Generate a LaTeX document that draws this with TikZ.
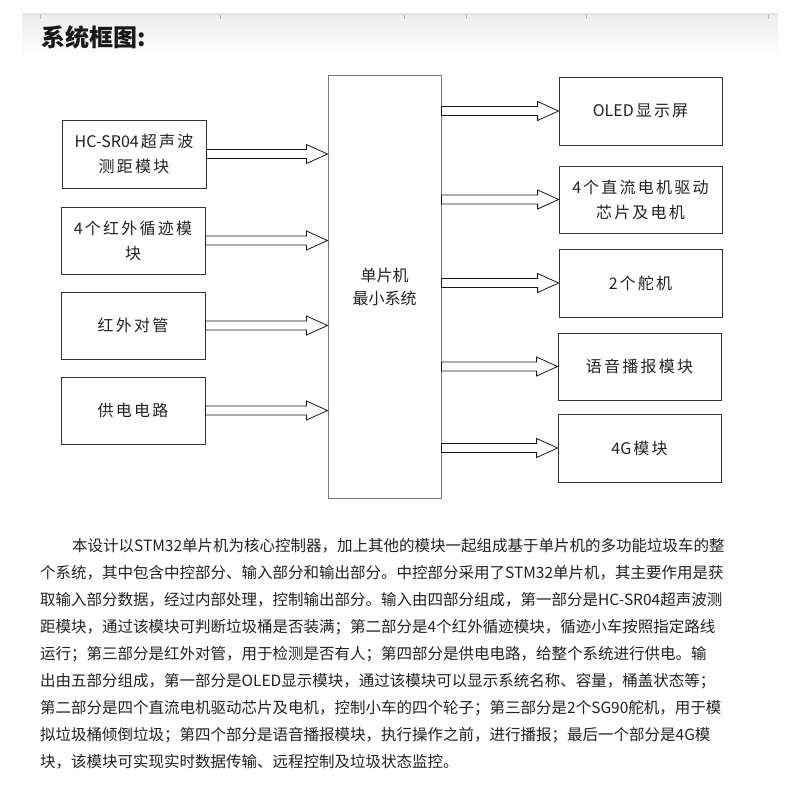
\documentclass[tikz,border=0pt]{standalone}
\usepackage{fontspec}
\setmainfont{Noto Sans CJK SC}
\newfontfamily\boxfont{Noto Sans CJK SC}[LetterSpace=14]
\XeTeXlinebreaklocale "zh"
\XeTeXlinebreakskip=0pt plus 3pt
\definecolor{BoxLine}{HTML}{333333}
\definecolor{CoreLine}{HTML}{7A7A7A}
\definecolor{TextGray}{HTML}{222222}
\usetikzlibrary{calc}

% hollow block arrow: from x of #1 to x of #2, at height #3
\newcommand{\blockarrow}[3]{%
  \draw[blockarrow] let \p1=(#1), \p2=(#2), \p3=(#3) in
    ({\x1},{\y3+4.5pt}) -- ({\x2-21pt},{\y3+4.5pt}) -- ({\x2-21pt},{\y3+9.5pt})
    -- ({\x2},{\y3}) -- ({\x2-21pt},{\y3-9.5pt}) -- ({\x2-21pt},{\y3-4.5pt})
    -- ({\x1},{\y3-4.5pt}) -- cycle;}
\newcommand{\pline}[2]{\hbox to #1pt{#2}}
\newcommand{\lat}[1]{{\rmfamily #1}\kern2pt}

\begin{document}
\begin{tikzpicture}[x=1pt, y=-1pt,
    every node/.style={font=\boxfont\fontsize{16}{25}\selectfont, text=TextGray},
    inbox/.style={rectangle, draw=BoxLine, line width=0.8pt, minimum width=144pt,
      minimum height=67pt, align=center, inner sep=0pt},
    outbox/.style={inbox, minimum width=163pt},
    core/.style={rectangle, draw=CoreLine, line width=1pt, minimum width=113pt,
      minimum height=423pt, align=center, font=\rmfamily\fontsize{16}{23}\selectfont},
    blockarrow/.style={draw=black!90, fill=white, line width=0.8pt},
    para/.style={anchor=west, inner sep=0pt, font=\rmfamily\fontsize{15.5}{20}\selectfont}]
    \useasboundingbox[fill=white] (0,0) rectangle (800,800);
    % header strip
    \shade[top color=black!7, bottom color=white] (22,14) rectangle (778,58);
    \draw[black!15] (22,14) -- (778,14);
    \foreach \t in {40,220,404,466,586,768}
      \draw[black!30, line width=1pt] (\t,15) -- (\t,19);
    \node[anchor=west, font=\rmfamily\fontsize{24}{24}\selectfont\bfseries, text=black!90] (title) at (38,37) {系统框图:};
    % blocks
    \node[core] (mcu) at (384.5,286.5) {单片机\\最小系统};
    \node[inbox, minimum height=68pt] (sonic) at (134,154) {\lat{HC-SR04}超声波\\测距模块};
    \node[inbox] (track) at (133,240.5) {\lat{4}个红外循迹模\\块};
    \node[inbox] (ir) at (133,325.5) {红外对管};
    \node[inbox] (power) at (133,410.5) {供电电路};
    \node[outbox, minimum height=68pt] (oled) at (640.5,111) {\lat{OLED}显示屏};
    \node[outbox] (motor) at (640.5,199.5) {\lat{4}个直流电机驱动\\芯片及电机};
    \node[outbox, minimum height=68pt] (servo) at (640.5,283) {\lat{2}个舵机};
    \node[outbox] (voice) at (639.5,366.5) {语音播报模块};
    \node[outbox, minimum height=68pt] (lte) at (639.5,448) {\lat{4G}模块};
    % arrows
    \foreach \m in {sonic,track,ir,power}
      \blockarrow{\m.east}{mcu.west}{\m.east};
    \foreach \m in {oled,motor,servo,voice,lte}
      \blockarrow{mcu.east}{\m.west}{\m.west};
    % description
    \node[para] (p1) at (72,546) {\pline{660}{本设计以STM32单片机为核心控制器，加上其他的模块一起组成基于单片机的多功能垃圾车的整}};
    \node[para] (p2) at (40,573) {\pline{690}{个系统，其中包含中控部分、输入部分和输出部分。中控部分采用了STM32单片机，其主要作用是获}};
    \node[para] (p3) at (40,600) {\pline{692}{取输入部分数据，经过内部处理，控制输出部分。输入由四部分组成，第一部分是HC-SR04超声波测}};
    \node[para] (p4) at (40,627) {\pline{692}{距模块，通过该模块可判断垃圾桶是否装满；第二部分是4个红外循迹模块，循迹小车按照指定路线}};
    \node[para] (p5) at (40,654) {\pline{688}{运行；第三部分是红外对管，用于检测是否有人；第四部分是供电电路，给整个系统进行供电。输}};
    \node[para] (p6) at (40,681) {\pline{690}{出由五部分组成，第一部分是OLED显示模块，通过该模块可以显示系统名称、容量，桶盖状态等；}};
    \node[para] (p7) at (40,708) {\pline{693}{第二部分是四个直流电机驱动芯片及电机，控制小车的四个轮子；第三部分是2个SG90舵机，用于模}};
    \node[para] (p8) at (40,735) {\pline{688}{拟垃圾桶倾倒垃圾；第四个部分是语音播报模块，执行操作之前，进行播报；最后一个部分是4G模}};
    \node[para] (p9) at (40,762) {块，该模块可实现实时数据传输、远程控制及垃圾状态监控。};
\end{tikzpicture}
\end{document}
